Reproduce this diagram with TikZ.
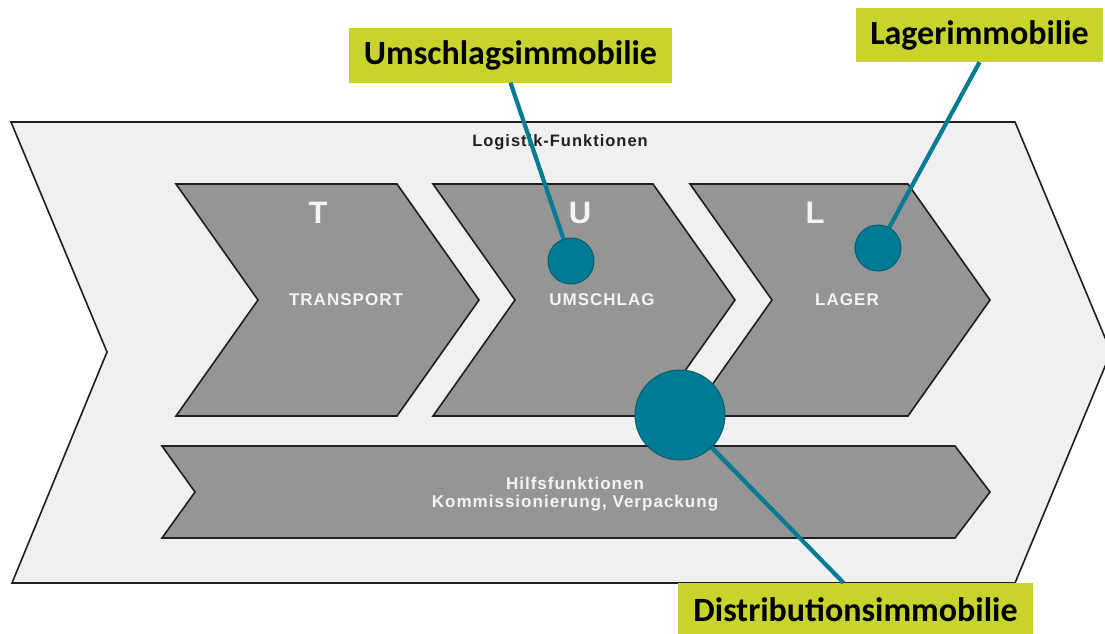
\documentclass[tikz,border=0pt]{standalone}
\usepackage{fontspec}
\setmainfont{Liberation Sans}
\newfontfamily\tagfont{Carlito}
\newfontfamily\spacedfont[LetterSpace=6]{Liberation Sans}
\definecolor{panel}{HTML}{F0F0F0}
\definecolor{stage}{HTML}{959595}
\definecolor{edge}{HTML}{1E1E1E}
\definecolor{hubfill}{HTML}{007B93}
\definecolor{hubedge}{HTML}{005F73}
\definecolor{tagfill}{HTML}{C8D42B}
\definecolor{caption}{HTML}{202020}
\definecolor{stagetext}{HTML}{F4F4F4}
\begin{document}
\begin{tikzpicture}[x=1pt,y=-1pt,
  outerarrow/.style={fill=panel,draw=edge,line width=1.6pt,line join=miter},
  stagearrow/.style={fill=stage,draw=edge,line width=1.6pt,line join=miter},
  hub/.style={circle,fill=hubfill,draw=hubedge,line width=1pt,inner sep=0pt},
  tag/.style={fill=tagfill,text=black,inner sep=0pt,minimum height=54pt,
    font=\tagfont\bfseries\fontsize{34}{38}\selectfont},
  link/.style={draw=hubfill,line width=4.2pt},
  letter/.style={text=stagetext,font=\bfseries\fontsize{31}{34}\selectfont},
  stagename/.style={text=stagetext,font=\spacedfont\bfseries\fontsize{17}{20}\selectfont},
]
\useasboundingbox (0,0) rectangle (1105,634);
\clip (0,0) rectangle (1105,634);
\fill[white] (0,0) rectangle (1105,634);

% frame arrow of the logistics functions
\path[outerarrow] (11,122) -- (1015,122) -- (1111,352) -- (1015,583)
  -- (12,583) -- (107,352) -- cycle;
\node[text=caption,font=\spacedfont\bfseries\fontsize{16.5}{19}\selectfont] (title) at (560,142) {Logistik-Funktionen};

% the three main stages
\path[stagearrow] (176,184) -- (397,184) -- (479,300) -- (397,416)
  -- (176,416) -- (258,300) -- cycle;
\path[stagearrow] (433,184) -- (653,184) -- (735,300) -- (653,416)
  -- (433,416) -- (515,300) -- cycle;
\path[stagearrow] (690,184) -- (908,184) -- (990,300) -- (908,416)
  -- (690,416) -- (772,300) -- cycle;

% auxiliary functions bar
\path[stagearrow] (162,446) -- (955,446) -- (990,492) -- (955,538)
  -- (162,538) -- (195,492) -- cycle;

\node[letter] (lt) at (318,213) {T};
\node[letter] (lu) at (580,213) {U};
\node[letter] (ll) at (815,213) {L};
\node[stagename] (nt) at (346,300) {TRANSPORT};
\node[stagename] (nu) at (602,300) {UMSCHLAG};
\node[stagename] (nl) at (847,300) {LAGER};
\node[stagename,align=center] (aux) at (575,494)
  {Hilfsfunktionen\\[-2pt]Kommissionierung, Verpackung};

% property types
\node[tag,minimum width=323pt] (tu) at (510.5,55.5) {Umschlagsimmobilie};
\node[tag,minimum width=247pt] (tl) at (979.5,35) {Lagerimmobilie};
\node[tag,minimum width=355pt] (td) at (855.5,610) {Distributionsimmobilie};

\node[hub,minimum size=46pt] (hu) at (571,261) {};
\node[hub,minimum size=46pt] (hl) at (878,248) {};
\node[hub,minimum size=90pt] (hd) at (680,415) {};

\draw[link] (tu.south) -- (hu);
\draw[link] (tl.south) -- (hl);
\draw[link] (hd) -- ([xshift=-12pt]td.north);
\end{tikzpicture}
\end{document}
